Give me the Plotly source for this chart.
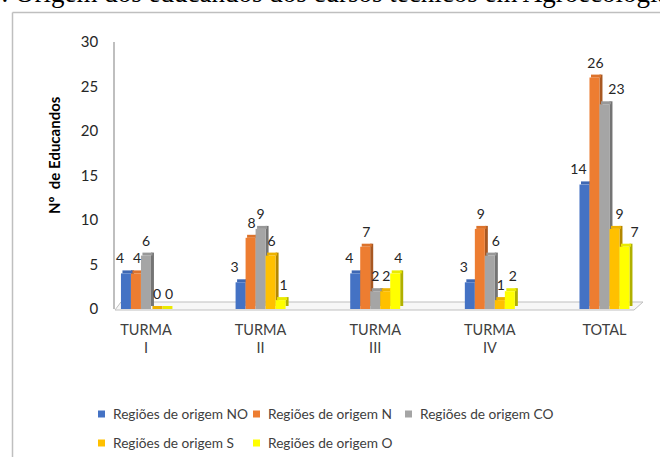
import plotly.graph_objects as go

# Number of students by region of origin, per class (TURMA) and total
categories = ["TURMA<br>I", "TURMA<br>II", "TURMA<br>III", "TURMA<br>IV", "TOTAL"]
series_names = [
    "Regiões de origem NO",
    "Regiões de origem N",
    "Regiões de origem CO",
    "Regiões de origem S",
    "Regiões de origem O",
]
values_NO = [4, 3, 4, 3, 14]
values_N = [4, 8, 7, 9, 26]
values_CO = [6, 9, 2, 6, 23]
values_S = [0, 6, 2, 1, 9]
values_O = [0, 1, 4, 2, 7]
y_ticks = [0, 5, 10, 15, 20, 25, 30]

series_values = [values_NO, values_N, values_CO, values_S, values_O]
front_colors = ["#4472C4", "#ED7D31", "#A5A5A5", "#FFC000", "#FFFF00"]
top_colors = ["#3E68B4", "#DC732C", "#989898", "#EDB200", "#EAEA00"]
side_colors = ["#2F4F8A", "#A85822", "#747474", "#B38700", "#B0B000"]

# Horizontal nudges (px) for value labels so they clear neighbouring columns
label_shift_px = [-6, 1, 0, 1, 3]
label_extra_px = {(2, 3): 6, (2, 4): 12, (3, 4): 4, (4, 4): 7}

# Plot-area geometry (pixels inside a 660 x 457 canvas)
W_PX, H_PX = 660, 457
L, R, T, B = 115, 640, 42, 309
X_RANGE = [-0.27, 4.31]
Y_RANGE = [0, 30]
kx = (R - L) / (X_RANGE[1] - X_RANGE[0])  # px per category unit
ky = (B - T) / (Y_RANGE[1] - Y_RANGE[0])  # px per value unit


def px_x(px):
    return (px - L) / (R - L)


def px_y(py):
    return (B - py) / (B - T)


bar_w = 10 / kx          # front-face width
depth_x = 3 / kx         # 3D depth, horizontal
depth_y = 3 / ky         # 3D depth, vertical
xs = list(range(len(categories)))
n = len(series_values)

fig = go.Figure()
for i, (name, vals) in enumerate(zip(series_names, series_values)):
    off = (i - n / 2) * bar_w
    # right side face
    fig.add_trace(go.Bar(
        x=xs, y=vals, base=[depth_y] * len(vals),
        offset=off + bar_w, width=depth_x,
        marker=dict(color=side_colors[i], line=dict(width=0)),
        showlegend=False, hoverinfo="skip",
    ))
    # top face
    fig.add_trace(go.Bar(
        x=xs, y=[depth_y] * len(vals), base=vals,
        offset=off + depth_x / 2, width=bar_w,
        marker=dict(color=top_colors[i], line=dict(width=0)),
        showlegend=False, hoverinfo="skip",
    ))
    # front face
    fig.add_trace(go.Bar(
        x=xs, y=vals, offset=off, width=bar_w, name=name,
        marker=dict(color=front_colors[i], line=dict(width=0)),
        showlegend=False,
        hovertemplate="%{y}<extra>" + name + "</extra>",
    ))

# value labels above each column
for i, vals in enumerate(series_values):
    centre = (i - n / 2) * bar_w + bar_w / 2
    lx = [x + centre + (label_shift_px[i] + label_extra_px.get((i, j), 0)) / kx
          for j, x in enumerate(xs)]
    ly = [v + 6.5 / ky for v in vals]
    fig.add_trace(go.Scatter(
        x=lx, y=ly, mode="text", text=[str(v) for v in vals],
        textposition="top center", cliponaxis=False,
        textfont=dict(family="Lato", size=14, color="#262626"),
        showlegend=False, hoverinfo="skip",
    ))

shapes = [
    # 3D floor under the columns
    dict(type="path", xref="paper", yref="paper", layer="below",
         path=(f"M{px_x(115)},{px_y(310)} L{px_x(634)},{px_y(310)} "
               f"L{px_x(643)},{px_y(302)} L{px_x(121)},{px_y(302)} Z"),
         fillcolor="#F7F7F7", line=dict(color="#BFBFBF", width=1)),
    # chart frame (left and top edges)
    dict(type="line", xref="paper", yref="paper",
         x0=px_x(12.5), y0=px_y(12.5), x1=px_x(12.5), y1=px_y(470),
         line=dict(color="#BFBFBF", width=1.5)),
    dict(type="line", xref="paper", yref="paper",
         x0=px_x(12.5), y0=px_y(12.5), x1=px_x(680), y1=px_y(12.5),
         line=dict(color="#BFBFBF", width=1.5)),
]

annotations = [
    dict(text="6. Origem dos educandos dos cursos técnicos em Agroecologia",
         xref="paper", yref="paper", x=px_x(-14), y=px_y(10),
         xanchor="left", yanchor="bottom", showarrow=False,
         font=dict(family="Liberation Serif", size=27, color="#000000")),
    dict(text="<b>Nº  de Educandos</b>", textangle=-90,
         xref="paper", yref="paper", x=px_x(54), y=px_y(155),
         xanchor="center", yanchor="middle", showarrow=False,
         font=dict(family="Lato", size=15, color="#000000")),
]

# Legend: two rows, three columns, small colour squares
legend_slots = [(98, 414), (253, 414), (405, 414), (98, 443), (253, 443)]
for (sx, sy), name, color in zip(legend_slots, series_names, front_colors):
    shapes.append(dict(type="rect", xref="paper", yref="paper",
                       x0=px_x(sx), x1=px_x(sx + 7),
                       y0=px_y(sy - 3.5), y1=px_y(sy + 3.5),
                       fillcolor=color, line=dict(width=0)))
    annotations.append(dict(text=name, xref="paper", yref="paper",
                            x=px_x(sx + 13), y=px_y(sy - 1),
                            xanchor="left", yanchor="middle", showarrow=False,
                            font=dict(family="Lato", size=13.7, color="#404040")))

fig.update_layout(
    width=W_PX, height=H_PX, autosize=False,
    margin=dict(l=L, r=W_PX - R, t=T, b=H_PX - B),
    paper_bgcolor="white", plot_bgcolor="rgba(0,0,0,0)",
    barmode="overlay", showlegend=False,
    xaxis=dict(range=X_RANGE, tickmode="array", tickvals=xs, ticktext=categories,
               showgrid=False, zeroline=False, showline=False, ticks="",
               tickfont=dict(family="Lato", size=14.5, color="#404040"),
               ticklabelstandoff=10),
    yaxis=dict(range=Y_RANGE, tickmode="array", tickvals=y_ticks,
               showgrid=False, zeroline=False, showline=True,
               linecolor="#BFBFBF", linewidth=1.5, ticks="",
               tickfont=dict(family="Lato", size=15, color="#262626"),
               ticklabelstandoff=12),
    shapes=shapes, annotations=annotations,
)

fig.write_html("out.html")
